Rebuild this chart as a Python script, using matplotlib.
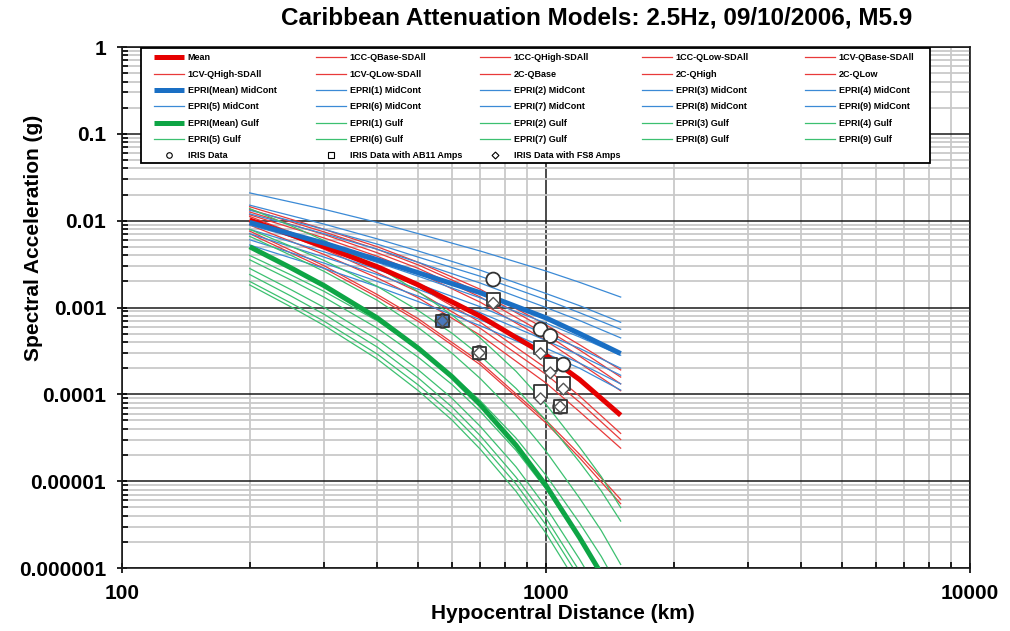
import matplotlib
matplotlib.use("Agg")
import matplotlib.pyplot as plt
from matplotlib.lines import Line2D
from matplotlib.patches import Rectangle
from matplotlib.ticker import LogLocator, NullFormatter

plt.rcParams['font.family'] = ['Liberation Sans', 'DejaVu Sans']

# ---------------- data ----------------
distance_km = [200, 300, 400, 500, 700, 1000, 1200, 1500]

# Caribbean models (red)
sa_mean = [1.02e-2, 5.01e-3, 2.95e-3, 1.82e-3, 7.94e-4, 2.82e-4, 1.48e-4, 5.75e-5]
sa_1cc_qbase = [1.45e-2, 7.94e-3, 5.01e-3, 3.31e-3, 1.62e-3, 6.31e-4, 3.72e-4, 1.91e-4]
sa_1cc_qhigh = [1.35e-2, 7.41e-3, 4.68e-3, 3.09e-3, 1.48e-3, 5.62e-4, 3.24e-4, 1.58e-4]
sa_1cc_qlow = [1.12e-2, 5.25e-3, 2.88e-3, 1.74e-3, 6.76e-4, 2.00e-4, 9.55e-5, 3.55e-5]
sa_1cv_qbase = [1.26e-2, 6.92e-3, 4.27e-3, 2.82e-3, 1.32e-3, 4.90e-4, 2.75e-4, 1.32e-4]
sa_1cv_qhigh = [1.17e-2, 6.31e-3, 3.89e-3, 2.51e-3, 1.15e-3, 4.17e-4, 2.29e-4, 1.10e-4]
sa_1cv_qlow = [1.00e-2, 4.68e-3, 2.51e-3, 1.51e-3, 5.75e-4, 1.70e-4, 8.13e-5, 3.02e-5]
sa_2c_qbase = [8.91e-3, 4.07e-3, 2.19e-3, 1.29e-3, 4.79e-4, 1.35e-4, 6.31e-5, 2.40e-5]
sa_2c_qhigh = [7.59e-3, 3.02e-3, 1.41e-3, 7.41e-4, 2.34e-4, 5.01e-5, 2.04e-5, 6.17e-6]
sa_2c_qlow = [7.08e-3, 2.82e-3, 1.32e-3, 6.92e-4, 2.19e-4, 4.68e-5, 1.86e-5, 5.50e-6]

# EPRI mid-continent (blue)
midc_mean = [9.55e-3, 5.50e-3, 3.55e-3, 2.51e-3, 1.48e-3, 7.59e-4, 5.01e-4, 2.95e-4]
midc_1 = [2.09e-2, 1.35e-2, 9.55e-3, 7.08e-3, 4.47e-3, 2.63e-3, 1.95e-3, 1.32e-3]
midc_2 = [1.51e-2, 9.12e-3, 6.17e-3, 4.47e-3, 2.69e-3, 1.45e-3, 1.05e-3, 6.76e-4]
midc_3 = [1.32e-2, 7.94e-3, 5.37e-3, 3.80e-3, 2.29e-3, 1.23e-3, 8.71e-4, 5.62e-4]
midc_4 = [1.20e-2, 7.08e-3, 4.68e-3, 3.31e-3, 1.91e-3, 1.00e-3, 7.08e-4, 4.47e-4]
midc_5 = [8.91e-3, 5.13e-3, 3.31e-3, 2.29e-3, 1.29e-3, 6.61e-4, 4.57e-4, 2.82e-4]
midc_6 = [7.94e-3, 4.37e-3, 2.75e-3, 1.86e-3, 1.02e-3, 4.90e-4, 3.39e-4, 2.00e-4]
midc_7 = [7.08e-3, 3.80e-3, 2.40e-3, 1.62e-3, 8.71e-4, 4.17e-4, 2.82e-4, 1.66e-4]
midc_8 = [6.03e-3, 3.24e-3, 2.00e-3, 1.35e-3, 7.24e-4, 3.39e-4, 2.29e-4, 1.32e-4]
midc_9 = [5.25e-3, 2.82e-3, 1.74e-3, 1.17e-3, 6.17e-4, 2.95e-4, 2.00e-4, 1.12e-4]

# EPRI Gulf (green) - read at more distances because these bend strongly
gulf_distance_km = [200, 250, 300, 400, 500, 600, 700, 850, 1000, 1200, 1350, 1500]
gulf_mean = [5.01e-3, 2.87e-3, 1.78e-3, 7.59e-4, 3.39e-4, 1.60e-4, 7.59e-5, 2.59e-5, 8.91e-6, 2.24e-6, 8.59e-7, 3.16e-7]
gulf_1 = [1.38e-2, 8.75e-3, 5.90e-3, 2.94e-3, 1.52e-3, 8.20e-4, 4.45e-4, 1.84e-4, 7.67e-5, 2.47e-5, 1.13e-5, 4.97e-6]
gulf_2 = [7.94e-3, 5.08e-3, 3.47e-3, 1.75e-3, 9.20e-4, 5.06e-4, 2.78e-4, 1.17e-4, 5.01e-5, 1.66e-5, 7.71e-6, 3.47e-6]
gulf_3 = [6.61e-3, 4.00e-3, 2.60e-3, 1.21e-3, 5.85e-4, 2.98e-4, 1.52e-4, 5.78e-5, 2.21e-5, 6.38e-6, 2.70e-6, 1.10e-6]
gulf_4 = [3.98e-3, 2.38e-3, 1.53e-3, 7.02e-4, 3.34e-4, 1.68e-4, 8.43e-5, 3.13e-5, 1.17e-5, 3.30e-6, 1.36e-6, 5.44e-7]
gulf_5 = [3.55e-3, 2.08e-3, 1.31e-3, 5.79e-4, 2.67e-4, 1.30e-4, 6.35e-5, 2.26e-5, 8.13e-6, 2.16e-6, 8.61e-7, 3.30e-7]
gulf_6 = [2.82e-3, 1.61e-3, 1.00e-3, 4.27e-4, 1.91e-4, 9.02e-5, 4.27e-5, 1.46e-5, 5.01e-6, 1.26e-6, 4.83e-7, 1.78e-7]
gulf_7 = [2.40e-3, 1.36e-3, 8.34e-4, 3.50e-4, 1.54e-4, 7.16e-5, 3.34e-5, 1.11e-5, 3.76e-6, 9.18e-7, 3.46e-7, 1.25e-7]
gulf_8 = [2.00e-3, 1.13e-3, 6.93e-4, 2.91e-4, 1.28e-4, 5.96e-5, 2.78e-5, 9.27e-6, 3.13e-6, 7.64e-7, 2.88e-7, 1.04e-7]
gulf_9 = [1.82e-3, 1.02e-3, 6.19e-4, 2.55e-4, 1.10e-4, 5.07e-5, 2.33e-5, 7.62e-6, 2.51e-6, 5.97e-7, 2.20e-7, 7.80e-8]

# IRIS observations
iris_dist = [570, 696, 751, 971, 1024, 1080, 1099]
iris_sa = [7.0e-4, 3.0e-4, 2.1e-3, 5.6e-4, 4.7e-4, 7.2e-5, 2.2e-4]
ab11_dist = [570, 696, 751, 971, 971, 1024, 1080, 1099]
ab11_sa = [7.0e-4, 3.0e-4, 1.25e-3, 3.5e-4, 1.07e-4, 2.2e-4, 7.2e-5, 1.33e-4]
fs8_dist = [570, 696, 751, 971, 971, 1024, 1080, 1099]
fs8_sa = [7.0e-4, 3.0e-4, 1.12e-3, 2.95e-4, 8.9e-5, 1.77e-4, 7.2e-5, 1.15e-4]

x_ticks = [100, 1000, 10000]
x_tick_labels = ['100', '1000', '10000']
y_ticks = [1e-6, 1e-5, 1e-4, 1e-3, 1e-2, 1e-1, 1]
y_tick_labels = ['0.000001', '0.00001', '0.0001', '0.001', '0.01', '0.1', '1']

title = 'Caribbean Attenuation Models: 2.5Hz, 09/10/2006, M5.9'

red_series = [('1CC-QBase-SDAll', sa_1cc_qbase), ('1CC-QHigh-SDAll', sa_1cc_qhigh),
              ('1CC-QLow-SDAll', sa_1cc_qlow), ('1CV-QBase-SDAll', sa_1cv_qbase),
              ('1CV-QHigh-SDAll', sa_1cv_qhigh), ('1CV-QLow-SDAll', sa_1cv_qlow),
              ('2C-QBase', sa_2c_qbase), ('2C-QHigh', sa_2c_qhigh), ('2C-QLow', sa_2c_qlow)]
blue_series = [('EPRI(%d) MidCont' % (i + 1), s) for i, s in enumerate(
    [midc_1, midc_2, midc_3, midc_4, midc_5, midc_6, midc_7, midc_8, midc_9])]
green_series = [('EPRI(%d) Gulf' % (i + 1), s) for i, s in enumerate(
    [gulf_1, gulf_2, gulf_3, gulf_4, gulf_5, gulf_6, gulf_7, gulf_8, gulf_9])]

# ---------------- styling ----------------
RED_T, RED_M = '#e83a3a', '#e60000'
BLUE_T, BLUE_M = '#3b8ad6', '#1a6fc4'
GREEN_T, GREEN_M = '#3cc070', '#0ea545'
THIN, THICK = 0.9, 3.6

fig = plt.figure(figsize=(10.10, 6.31), dpi=100)
ax = fig.add_axes([0.1208, 0.0998, 0.8396, 0.8257])
ax.set_xscale('log')
ax.set_yscale('log')
ax.set_xlim(100, 10000)
ax.set_ylim(1e-6, 1)

ax.xaxis.set_minor_locator(LogLocator(base=10, subs=range(2, 10)))
ax.yaxis.set_minor_locator(LogLocator(base=10, subs=range(2, 10), numticks=20))
ax.xaxis.set_minor_formatter(NullFormatter())
ax.yaxis.set_minor_formatter(NullFormatter())
ax.grid(which='minor', color='#c9c9c9', lw=1.3, zorder=0)
ax.grid(which='major', color='#1a1a1a', lw=1.1, zorder=0)
ax.set_axisbelow(True)

handles = []
labels = []

h, = ax.plot(distance_km, sa_mean, color=RED_M, lw=THICK, zorder=3, solid_capstyle='butt')
handles.append(h); labels.append('Mean')
for name, s in red_series:
    h, = ax.plot(distance_km, s, color=RED_T, lw=THIN, zorder=2)
    handles.append(h); labels.append(name)

h, = ax.plot(distance_km, midc_mean, color=BLUE_M, lw=THICK, zorder=3, solid_capstyle='butt')
handles.append(h); labels.append('EPRI(Mean) MidCont')
for name, s in blue_series:
    h, = ax.plot(distance_km, s, color=BLUE_T, lw=THIN, zorder=2)
    handles.append(h); labels.append(name)

h, = ax.plot(gulf_distance_km, gulf_mean, color=GREEN_M, lw=THICK, zorder=3, solid_capstyle='butt')
handles.append(h); labels.append('EPRI(Mean) Gulf')
for name, s in green_series:
    h, = ax.plot(gulf_distance_km, s, color=GREEN_T, lw=THIN, zorder=2)
    handles.append(h); labels.append(name)

# IRIS markers
face_c = ['#4a78bd'] + ['white'] * (len(iris_dist) - 1)
face_s = ['#4a78bd'] + ['white'] * (len(ab11_dist) - 1)
ax.scatter(iris_dist, iris_sa, s=100, marker='o', facecolors=face_c,
           edgecolors='#333333', linewidths=1.3, zorder=5)
ax.scatter(ab11_dist, ab11_sa, s=85, marker='s', facecolors=face_s,
           edgecolors='#333333', linewidths=1.3, zorder=6)
ax.scatter(fs8_dist, fs8_sa, s=35, marker='D', facecolors=face_s,
           edgecolors='#555555', linewidths=1.0, zorder=7)

mk = dict(ls='none', mec='black', mfc='white', mew=0.8)
handles.append(Line2D([], [], marker='o', ms=4, **mk)); labels.append('IRIS Data')
handles.append(Line2D([], [], marker='s', ms=4, **mk)); labels.append('IRIS Data with AB11 Amps')
handles.append(Line2D([], [], marker='D', ms=3.5, **mk)); labels.append('IRIS Data with FS8 Amps')

# legend: frame + 5 fixed columns, filled row by row
ax.add_patch(Rectangle((0.0224, 0.7774), 0.9304, 0.2206, transform=ax.transAxes,
                       facecolor='white', edgecolor='black', lw=1.3, zorder=9))
ncol = 5
col_x = [0.0377, 0.2288, 0.4222, 0.6132, 0.8054]
legs = []
for c in range(ncol):
    idx = list(range(c, len(handles), ncol))
    lg = ax.legend([handles[i] for i in idx], [labels[i] for i in idx],
                   loc='upper left', bbox_to_anchor=(col_x[c], 0.9876),
                   borderaxespad=0, borderpad=0, frameon=False,
                   prop={'weight': 'bold', 'size': 6.5}, handlelength=3.3,
                   handletextpad=0.45, labelspacing=0.81)
    lg.set_zorder(10)
    legs.append(lg)
for lg in legs[:-1]:
    ax.add_artist(lg)

# ticks
ax.set_xticks(x_ticks)
ax.set_xticklabels(x_tick_labels)
ax.set_yticks(y_ticks)
ax.set_yticklabels(y_tick_labels)
for t in ax.get_xticklabels() + ax.get_yticklabels():
    t.set_fontweight('bold')
    t.set_fontsize(15)
ax.tick_params(which='major', direction='inout', length=7, width=1.2, pad=8)
ax.tick_params(which='minor', direction='in', length=4, width=1.2)
for sp in ax.spines.values():
    sp.set_color('#1a1a1a')
    sp.set_linewidth(1.2)

fig.text(0.591, 0.972, title, ha='center', va='center', fontsize=17.5, fontweight='bold')
fig.text(0.557, 0.027, 'Hypocentral Distance (km)', ha='center', va='center',
         fontsize=15, fontweight='bold')
fig.text(0.033, 0.623, 'Spectral Acceleration (g)', ha='center', va='center',
         rotation=90, fontsize=15, fontweight='bold')

fig.savefig('out.png', dpi=100)
